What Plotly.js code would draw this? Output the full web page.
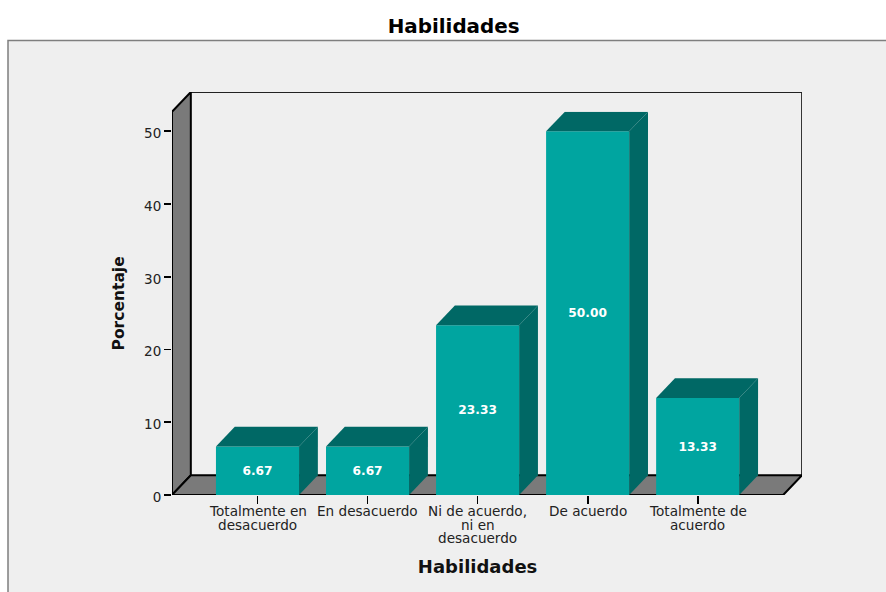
<!DOCTYPE html>
<html lang="es">
<head>
<meta charset="utf-8">
<title>Habilidades</title>
<script src="https://cdn.plot.ly/plotly-3.0.1.min.js"></script>
<style>html,body{margin:0;padding:0;background:#fff;overflow:hidden}#chart{width:886px;height:592px}</style>
</head>
<body>
<div id="chart"></div>
<script>
// Survey responses, percentage per answer
const categories = [
  ["Totalmente en", "desacuerdo"],
  ["En desacuerdo"],
  ["Ni de acuerdo,", "ni en", "desacuerdo"],
  ["De acuerdo"],
  ["Totalmente de", "acuerdo"]
];
const percentages = [6.67, 6.67, 23.33, 50.00, 13.33];
const yTicks = [0, 10, 20, 30, 40, 50];

// Box geometry in axis units: the front plane plus the depth of the 3D frame
const xMin = -0.777, xMax = 4.777, yMax = 52.7;
const depthX = 0.171, depthY = 2.71, barWidth = 0.755;

const FACE = "#00A5A0", SHADE = "#006865", WALL = "#7A7A7A", PANEL = "#EFEFEF";
const TEXT = "#222222";
const FONT = "DejaVu Sans, sans-serif";

// Front-plane share of the whole frame, used as the axis domain
const frontX = (xMax - xMin) / (xMax - xMin + depthX);
const frontY = yMax / (yMax + depthY);

const poly = (xs, ys, fill, line, front) => ({
  type: "scatter", mode: "lines", x: xs, y: ys, fill: "toself", fillcolor: fill,
  line: line, hoverinfo: "skip", showlegend: false,
  xaxis: front ? "x2" : "x", yaxis: front ? "y2" : "y"
});
const edge = {color: "#000000", width: 2};
const noEdge = {color: "rgba(0,0,0,0)", width: 0};

const traces = [
  // back wall outline
  {type: "scatter", mode: "lines", x: [xMin + depthX, xMax + depthX, xMax + depthX],
   y: [yMax + depthY, yMax + depthY, depthY], line: {color: "#222222", width: 1.8},
   hoverinfo: "skip", showlegend: false, xaxis: "x", yaxis: "y"},
  // left wall and floor
  poly([xMin, xMin, xMin + depthX, xMin + depthX, xMin],
       [0, yMax, yMax + depthY, depthY, 0], WALL, edge),
  poly([xMin, xMin + depthX, xMax + depthX, xMax, xMin],
       [0, depthY, depthY, 0, 0], WALL, edge),
  // front faces of the columns with their value labels
  {type: "bar", x: percentages.map((_, i) => i), y: percentages, width: barWidth,
   marker: {color: FACE, line: {width: 0}}, text: percentages.map(v => v.toFixed(2)),
   textposition: "inside", insidetextanchor: "middle", constraintext: "none", textangle: 0,
   textfont: {family: FONT, size: 12.2, color: "#FFFFFF", weight: 700},
   hoverinfo: "skip", showlegend: false, xaxis: "x2", yaxis: "y2"}
];

// top and side faces of each column
percentages.forEach((v, i) => {
  const l = i - barWidth / 2, r = i + barWidth / 2;
  traces.push(poly([l, l + depthX, r + depthX, r, l], [v, v + depthY, v + depthY, v, v], SHADE, noEdge, true));
  traces.push(poly([r, r + depthX, r + depthX, r, r], [0, depthY, v + depthY, v, 0], SHADE, noEdge, true));
});

// category labels, one annotation per line for tight leading
const annotations = [];
categories.forEach((lines, i) => lines.forEach((t, k) => annotations.push({
  text: t, x: i, y: 0, xref: "x2", yref: "y2", yanchor: "top", xanchor: "center",
  yshift: -7.5 - k * 13.4, showarrow: false, borderpad: 0,
  font: {family: FONT, size: 13.6, color: TEXT}
})));

const layout = {
  width: 886, height: 592,
  margin: {l: 172, r: 84, t: 92, b: 97, pad: 0},
  paper_bgcolor: "#FFFFFF", plot_bgcolor: "rgba(0,0,0,0)",
  showlegend: false,
  title: {text: "Habilidades", x: 0.512, xanchor: "center", y: 0.956, yanchor: "middle",
          font: {family: FONT, size: 19.9, weight: 700, color: "#000000"}},
  // frame layer spanning front plane and depth
  xaxis: {domain: [0, 1], range: [xMin, xMax + depthX], visible: false, fixedrange: true},
  yaxis: {domain: [0, 1], range: [0, yMax + depthY], visible: false, fixedrange: true},
  // front plane: carries the columns, ticks and axis titles
  xaxis2: {domain: [0, frontX], anchor: "y2", range: [xMin, xMax], tickmode: "array",
          tickvals: percentages.map((_, i) => i), showticklabels: false,
          ticks: "outside", ticklen: 8, tickwidth: 1.8, tickcolor: "#000000",
          showgrid: false, zeroline: false, showline: false, fixedrange: true,
          title: {text: "Habilidades", standoff: 57,
                  font: {family: FONT, size: 18, weight: 700, color: "#111111"}}},
  yaxis2: {domain: [0, frontY], anchor: "x2", range: [0, yMax], tickmode: "array",
          tickvals: yTicks, ticktext: yTicks.map(String),
          ticks: "outside", ticklen: 7, tickwidth: 1.8, tickcolor: "#000000",
          ticklabelshift: 2,
          tickfont: {family: FONT, size: 13.5, color: TEXT},
          showgrid: false, zeroline: false, showline: false, fixedrange: true,
          title: {text: "Porcentaje", standoff: 15,
                  font: {family: FONT, size: 15.5, weight: 700, color: "#111111"}}},
  // grey-framed panel behind the chart, running off the right and bottom edges
  shapes: [{type: "rect", layer: "below", xref: "paper", yref: "paper",
            x0: (8 - 172) / 630, x1: (900 - 172) / 630,
            y0: (495 - 610) / 403, y1: (495 - 40.5) / 403,
            fillcolor: PANEL, line: {color: "#7F7F7F", width: 1.5}}],
  annotations: annotations
};

Plotly.newPlot("chart", traces, layout, {displayModeBar: false, staticPlot: true});
</script>
</body>
</html>
